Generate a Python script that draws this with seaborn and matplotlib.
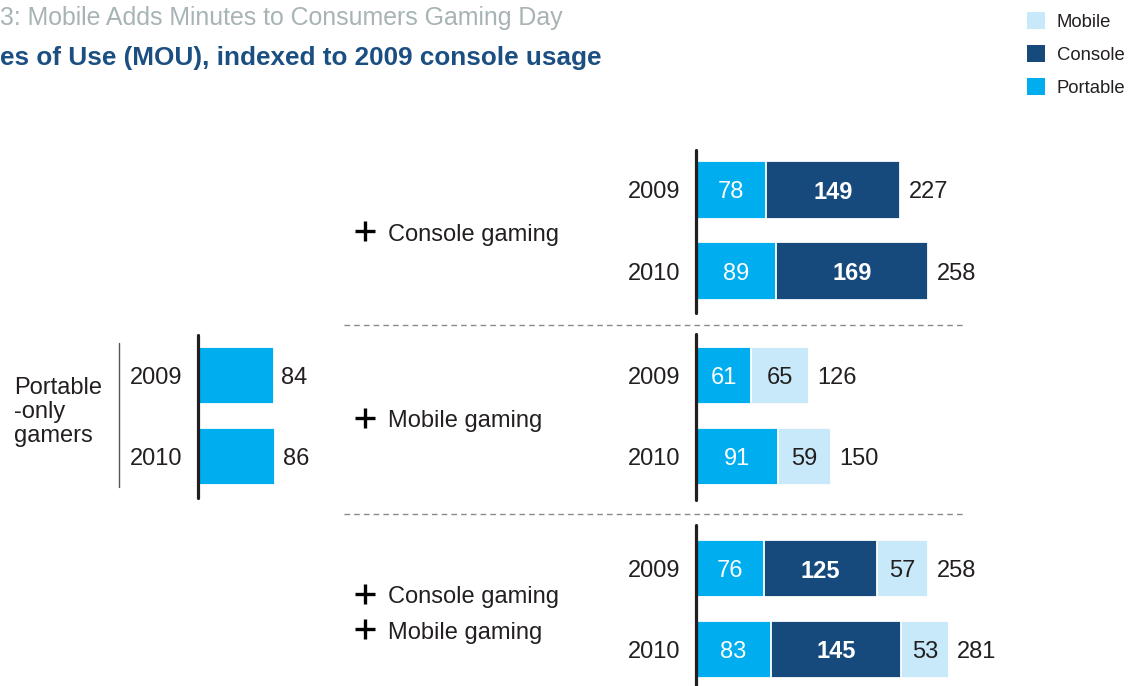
import numpy as np
import matplotlib
matplotlib.use("Agg")
import matplotlib.pyplot as plt
from matplotlib.patches import Patch
from matplotlib.lines import Line2D
import seaborn as sns

# ---------------- data ----------------
years = ["2009", "2010"]
portable_only = [84, 86]

console_portable = [78, 89]
console_console = [149, 169]

mobile_portable = [61, 91]
mobile_mobile = [65, 59]

both_portable = [76, 83]
both_console = [125, 145]
both_mobile = [57, 53]

legend_labels = ["Mobile", "Console", "Portable"]
title_text = "3: Mobile Adds Minutes to Consumers Gaming Day"
subtitle_text = "es of Use (MOU), indexed to 2009 console usage"
left_label = "Portable\n-only\ngamers"
group_labels = [["Console gaming"], ["Mobile gaming"], ["Console gaming", "Mobile gaming"]]

# ---------------- style ----------------
C_PORT = "#00aeef"
C_CONS = "#174a7c"
C_MOB = "#c8e9f9"
C_TXT = "#231f20"
C_TITLE = "#a7b3b5"
C_SUB = "#1b4f82"

sns.set_theme(style="white")
plt.rcParams["font.family"] = ["Liberation Sans", "DejaVu Sans"]

W, H = 1129, 686
fig = plt.figure(figsize=(W / 100, H / 100), dpi=100)
fig.patch.set_facecolor("white")

FS = 17
BAR_W = 0.704
UNIT_PX = 0.9  # pixels per index unit


def px_axes(x0, y_top, y_bot, xmax):
    width_px = xmax * UNIT_PX
    rect = [x0 / W, 1 - y_bot / H, width_px / W, (y_bot - y_top) / H]
    ax = fig.add_axes(rect)
    ax.set_facecolor("none")
    return ax


def style_axes(ax, y_top, y_bot, c0, c1, xmax):
    pitch = c1 - c0
    ax.set_xlim(0, xmax)
    ax.set_ylim(1 + (y_bot - c1) / pitch, -(c0 - y_top) / pitch)
    for s in ["top", "right", "bottom"]:
        ax.spines[s].set_visible(False)
    ax.spines["left"].set_color(C_TXT)
    ax.spines["left"].set_linewidth(2.3)
    ax.spines["left"].set_capstyle("round")
    ax.set_xticks([])
    ax.tick_params(axis="y", length=0, pad=11, labelsize=FS, labelcolor=C_TXT)
    ax.set_xlabel("")
    ax.set_ylabel("")


def stacked(ax, segs, colors, txt_colors, weights):
    segs = np.array(segs, dtype=float)
    cum = np.cumsum(segs, axis=0)
    for i in reversed(range(len(segs))):
        sns.barplot(x=cum[i], y=years, orient="h", color=colors[i], saturation=1,
                    width=BAR_W, edgecolor="white", linewidth=1.3, errorbar=None, ax=ax)
    for i in range(len(segs)):
        for j in range(len(years)):
            ax.text(cum[i][j] - segs[i][j] / 2, j, f"{int(segs[i][j])}", ha="center",
                    va="center_baseline", fontsize=FS, color=txt_colors[i], fontweight=weights[i])
    for j in range(len(years)):
        ax.annotate(f"{int(cum[-1][j])}", xy=(cum[-1][j], j), xytext=(6, 0), textcoords="offset points",
                    ha="left", va="center_baseline", fontsize=FS, color=C_TXT)


# ---------------- left panel ----------------
axL = px_axes(198, 335, 498, 100)
sns.barplot(x=portable_only, y=years, orient="h", color=C_PORT, saturation=1, width=BAR_W,
            edgecolor="white", linewidth=1.3, errorbar=None, ax=axL)
for j, v in enumerate(portable_only):
    axL.annotate(f"{v}", xy=(v, j), xytext=(5.5, 0), textcoords="offset points",
                 ha="left", va="center_baseline", fontsize=FS, color=C_TXT)
style_axes(axL, 335, 498, 375.5, 456.5, 100)
fig.text(14 / W, 1 - 412 / H, left_label, ha="left", va="center", fontsize=FS, color=C_TXT,
         linespacing=1.1)
fig.add_artist(Line2D([119.5 / W, 119.5 / W], [1 - 343 / H, 1 - 487 / H], color="#555555", lw=1.0))

# ---------------- right panels ----------------
XMAX = 320
groups = [
    dict(top=150, bot=313, c0=190, c1=271,
         segs=[console_portable, console_console],
         colors=[C_PORT, C_CONS], tc=["white", "white"], w=["normal", "bold"]),
    dict(top=334, bot=500, c0=375.5, c1=456.5,
         segs=[mobile_portable, mobile_mobile],
         colors=[C_PORT, C_MOB], tc=["white", C_TXT], w=["normal", "normal"]),
    dict(top=525, bot=690, c0=568.5, c1=649.5,
         segs=[both_portable, both_console, both_mobile],
         colors=[C_PORT, C_CONS, C_MOB], tc=["white", "white", C_TXT], w=["normal", "bold", "normal"]),
]
for g in groups:
    ax = px_axes(696, g["top"], g["bot"], XMAX)
    stacked(ax, g["segs"], g["colors"], g["tc"], g["w"])
    style_axes(ax, g["top"], g["bot"], g["c0"], g["c1"], XMAX)

# group labels with plus signs
label_rows = [[232], [419], [595, 630]]
for labels, ys in zip(group_labels, label_rows):
    for lab, y in zip(labels, ys):
        fig.add_artist(Line2D([365 / W], [1 - (y - 1) / H], marker="+", markersize=15,
                              markeredgewidth=2.4, color="black", linestyle="none"))
        fig.text(388 / W, 1 - y / H, lab, ha="left", va="center_baseline", fontsize=FS, color=C_TXT)

# dashed separators
for y in [325, 513.5]:
    fig.add_artist(Line2D([344 / W, 965 / W], [1 - y / H, 1 - y / H], color="#8a8a8a", lw=1.0,
                          linestyle=(0, (4, 3))))

# ---------------- titles ----------------
fig.text(0, 1 - 15 / H, title_text, ha="left", va="center_baseline", fontsize=17.9, color=C_TITLE)
fig.text(0, 1 - 55 / H, subtitle_text, ha="left", va="center_baseline", fontsize=18.8, color=C_SUB,
         fontweight="bold")

# ---------------- legend ----------------
handles = [Patch(facecolor=c, edgecolor="none", label=l)
           for c, l in zip([C_MOB, C_CONS, C_PORT], legend_labels)]
fig.legend(handles=handles, loc="upper left", bbox_to_anchor=(1027 / W, 1 - 12 / H), frameon=False,
           fontsize=13.3, handlelength=1.0, handleheight=1.0, handletextpad=0.6, labelspacing=0.78,
           borderpad=0, borderaxespad=0, labelcolor=C_TXT)

fig.savefig("out.png", dpi=100)
